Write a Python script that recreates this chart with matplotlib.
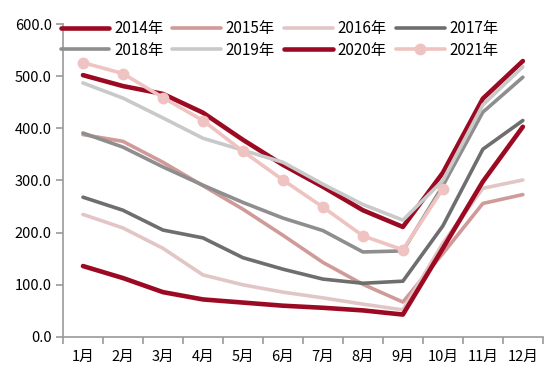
import numpy as np
import matplotlib.pyplot as plt

plt.rcParams['font.family'] = ['Noto Sans CJK SC', 'DejaVu Sans']

meses = ['1月', '2月', '3月', '4月', '5月', '6月', '7月', '8月', '9月', '10月', '11月', '12月']

y2014 = [502, 481, 466, 430, 378, 330, 288, 243, 211, 315, 457, 529]
y2015 = [388, 375, 335, 290, 245, 195, 143, 101, 67, 160, 256, 273]
y2016 = [235, 209, 170, 119, 100, 86, 75, 63, 52, 180, 285, 301]
y2017 = [268, 243, 205, 190, 152, 130, 111, 103, 107, 213, 360, 415]
y2018 = [391, 364, 326, 291, 258, 228, 204, 163, 165, 290, 431, 498]
y2019 = [487, 458, 420, 381, 358, 335, 293, 254, 224, 300, 445, 518]
y2020 = [136, 113, 86, 72, 66, 60, 56, 51, 43, 170, 298, 403]
y2021 = [526, 505, 459, 415, 356, 301, 249, 194, 167, 284]

rojo = '#9b0a22'
series = [
    ('2014年', y2014, rojo, 3.3),
    ('2015年', y2015, '#d09a98', 2.6),
    ('2016年', y2016, '#e2c6c6', 2.6),
    ('2017年', y2017, '#6e6e6e', 2.6),
    ('2018年', y2018, '#8e8e8e', 2.6),
    ('2019年', y2019, '#c9c9c9', 2.6),
    ('2020年', y2020, rojo, 3.3),
]

fig = plt.figure(figsize=(5.5, 3.81), dpi=100)
ax = fig.add_axes([0.1145, 0.1155, 0.8725, 0.8215])

lineas = {}
for nombre, vals, color, lw in series:
    x = np.arange(len(vals)) + 0.5
    l, = ax.plot(x, vals, color=color, lw=lw, solid_capstyle='round',
                 solid_joinstyle='round', label=nombre)
    lineas[nombre] = l

x21 = np.arange(len(y2021)) + 0.5
l21, = ax.plot(x21, y2021, color='#efc3c1', lw=2.6, marker='o', markersize=7.5,
               solid_capstyle='round', label='2021年')
lineas['2021年'] = l21

ax.set_xlim(0, 12)
ax.set_ylim(0, 600)
ax.set_yticks(np.arange(0, 601, 100))
ax.set_yticklabels([f'{v:.1f}' for v in range(0, 601, 100)])
ax.set_xticks(np.arange(0, 13))
ax.set_xticklabels([])
ax.set_xticks(np.arange(12) + 0.5, minor=True)
ax.set_xticklabels(meses, minor=True)

gris = '#9a9a9a'
for s in ['top', 'right']:
    ax.spines[s].set_visible(False)
for s in ['left', 'bottom']:
    ax.spines[s].set_color(gris)
    ax.spines[s].set_linewidth(1.2)
ax.tick_params(axis='y', which='major', length=5, width=1.2, color=gris,
               labelsize=10.5, pad=3)
ax.tick_params(axis='x', which='major', length=5, width=1.2, color=gris)
ax.tick_params(axis='x', which='minor', length=0, labelsize=10.5, pad=9)

orden = ['2014年', '2018年', '2015年', '2019年', '2016年', '2020年', '2017年', '2021年']
fig.legend([lineas[n] for n in orden], orden, ncol=4, frameon=False,
           loc='upper left', bbox_to_anchor=(0.11, 0.947), fontsize=11,
           handlelength=3.2, handletextpad=0.3, columnspacing=0.6,
           labelspacing=0.3, borderpad=0, borderaxespad=0)

fig.savefig('out.png', dpi=100)
